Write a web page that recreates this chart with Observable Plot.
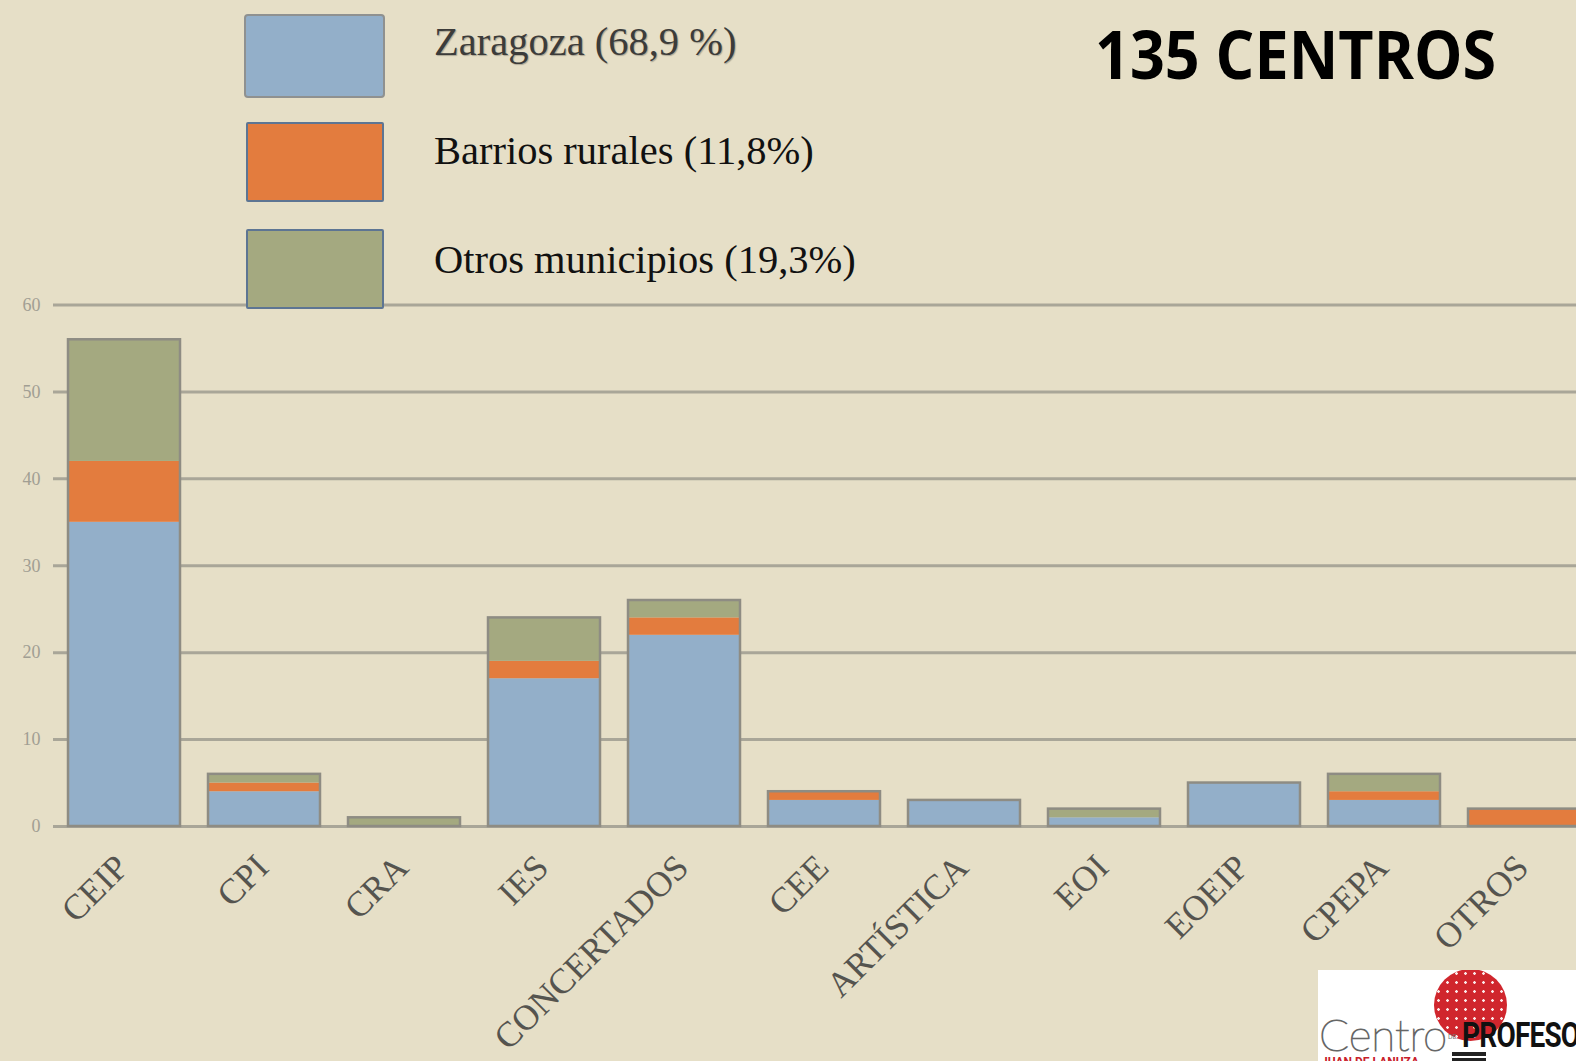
<!DOCTYPE html>
<html>
<head>
<meta charset="utf-8">
<script src="https://cdn.jsdelivr.net/npm/d3@7"></script>
<script src="https://cdn.jsdelivr.net/npm/@observablehq/plot@0.6"></script>
<style>
html, body { margin:0; padding:0; background:#e6dfc7; overflow:hidden; width:1576px; height:1061px; }
#wrap { position:relative; width:1576px; height:1061px; overflow:hidden; background:#e6dfc7; }
#chart { position:absolute; left:0; top:0; }
.sw { position:absolute; box-sizing:border-box; border:2px solid #5d7593; border-radius:2px; }
.lt { position:absolute; font-family:"Liberation Serif", serif; font-size:40.5px; color:#111; white-space:nowrap; line-height:41px; }
#title { position:absolute; left:1095px; top:20px; font-family:"Open Sans", sans-serif; font-weight:700; font-size:66px; line-height:66px; color:#000; white-space:nowrap; transform:scaleX(0.925); transform-origin:left top; }
#logo { position:absolute; left:1318px; top:970px; width:260px; height:95px; background:#fff; overflow:hidden; }
</style>
</head>
<body>
<div id="wrap">
  <div id="chart"></div>
  <div id="legend"></div>
  <div id="title"></div>
  <div id="logo">
    <div style="position:absolute;left:116px;top:-1px;width:73px;height:72px;border-radius:50%;background:radial-gradient(circle, rgba(255,255,255,0.9) 18%, transparent 24%) 0 0/9px 9px, #d0262d;"></div>
    <div style="position:absolute;left:1px;top:42px;font-family:Lato, sans-serif;font-weight:100;font-size:44px;line-height:44px;color:transparent;-webkit-text-stroke:1.1px #666;white-space:nowrap;">Centro</div>
    <div style="position:absolute;left:130px;top:63px;font-family:Roboto, sans-serif;font-size:7px;line-height:8px;color:#777;">DE</div>
    <div style="position:absolute;left:144px;top:48px;font-family:Roboto, sans-serif;font-weight:700;font-size:35px;line-height:35px;letter-spacing:-1px;color:#111;white-space:nowrap;transform:scaleX(0.8);transform-origin:left top;">PROFESORADO</div>
    <div style="position:absolute;left:134px;top:82px;width:34px;height:4px;background:#222;"></div>
    <div style="position:absolute;left:134px;top:88px;width:34px;height:4px;background:#222;"></div>
    <div style="position:absolute;left:3px;top:86px;font-family:Roboto, sans-serif;font-weight:700;font-size:12px;line-height:12px;color:#c8202a;white-space:nowrap;">JUAN DE LANUZA</div>
  </div>
</div>
<script>
const categories = ["CEIP","CPI","CRA","IES","CONCERTADOS","CEE","ARTÍSTICA","EOI","EOEIP","CPEPA","OTROS"];
const series = ["Zaragoza (68,9 %)","Barrios rurales (11,8%)","Otros municipios (19,3%)"];
const zaragoza = [35,4,0,17,22,3,3,1,5,3,0];
const barrios  = [7,1,0,2,2,1,0,0,0,1,2];
const otros    = [14,1,1,5,2,0,0,1,0,2,0];
const colors = ["#93afc9","#e37c3e","#a4a980"];
const legendBorders = ["#8f9190","#5d7593","#5d7593"];
const yTicks = [0,10,20,30,40,50,60];
const title = "135 CENTROS";

document.getElementById("title").textContent = title;

const seriesValues = [zaragoza, barrios, otros];
const data = series.flatMap((s, si) => categories.map((c, i) => ({cat: c, series: s, value: seriesValues[si][i]})));

const chart = Plot.plot({
  width: 1600,
  height: 1061,
  marginLeft: 53,
  marginRight: 6,
  marginTop: 304.5,
  marginBottom: 235,
  style: {background: "transparent", maxWidth: "none", overflow: "visible"},
  x: {domain: categories, paddingInner: 0.2, paddingOuter: 0.1, axis: null},
  y: {domain: [0, 60]},
  color: {domain: series, range: colors},
  marks: [
    Plot.ruleY(yTicks, {stroke: "#a9a698", strokeWidth: 3}),
    Plot.axisY({ticks: yTicks, tickSize: 0, tickPadding: 13, fontSize: 18, fill: "#a19e93", fontFamily: "Liberation Serif", label: null, style: {letterSpacing: "0.5px"}}),
    Plot.barY(data, {x: "cat", y: "value", fill: "series"}),
    Plot.barY(data, Plot.groupX({y: "sum"}, {x: "cat", y: "value", fill: "none", stroke: "#8e8c83", strokeWidth: 2.5})),
    Plot.text(categories, {x: d => d, frameAnchor: "bottom", rotate: -45, textAnchor: "end", lineAnchor: "bottom", dx: 6, dy: 43, fontSize: 35.5, fontFamily: "Liberation Serif", fill: "#55544f"})
  ]
});
document.getElementById("chart").appendChild(chart);

// legend
const legend = document.getElementById("legend");
const swTops = [14, 122, 229];
const textTops = [21, 130, 239];
series.forEach((s, i) => {
  const sw = document.createElement("div");
  sw.className = "sw";
  sw.style.left = (i === 0 ? 244 : 246) + "px";
  sw.style.top = swTops[i] + "px";
  sw.style.width = (i === 0 ? 141 : 138) + "px";
  sw.style.height = (i === 0 ? 84 : 80) + "px";
  sw.style.background = colors[i];
  sw.style.borderColor = legendBorders[i];
  if (i === 0) sw.style.borderRadius = "4px";
  legend.appendChild(sw);
  const t = document.createElement("div");
  t.className = "lt";
  t.style.left = "434px";
  t.style.top = textTops[i] + "px";
  t.textContent = s;
  if (i === 0) { t.style.color = "#3c3c3a"; t.style.textShadow = "1px 1px 1px rgba(0,0,0,0.25)"; }
  legend.appendChild(t);
});
</script>
</body>
</html>
